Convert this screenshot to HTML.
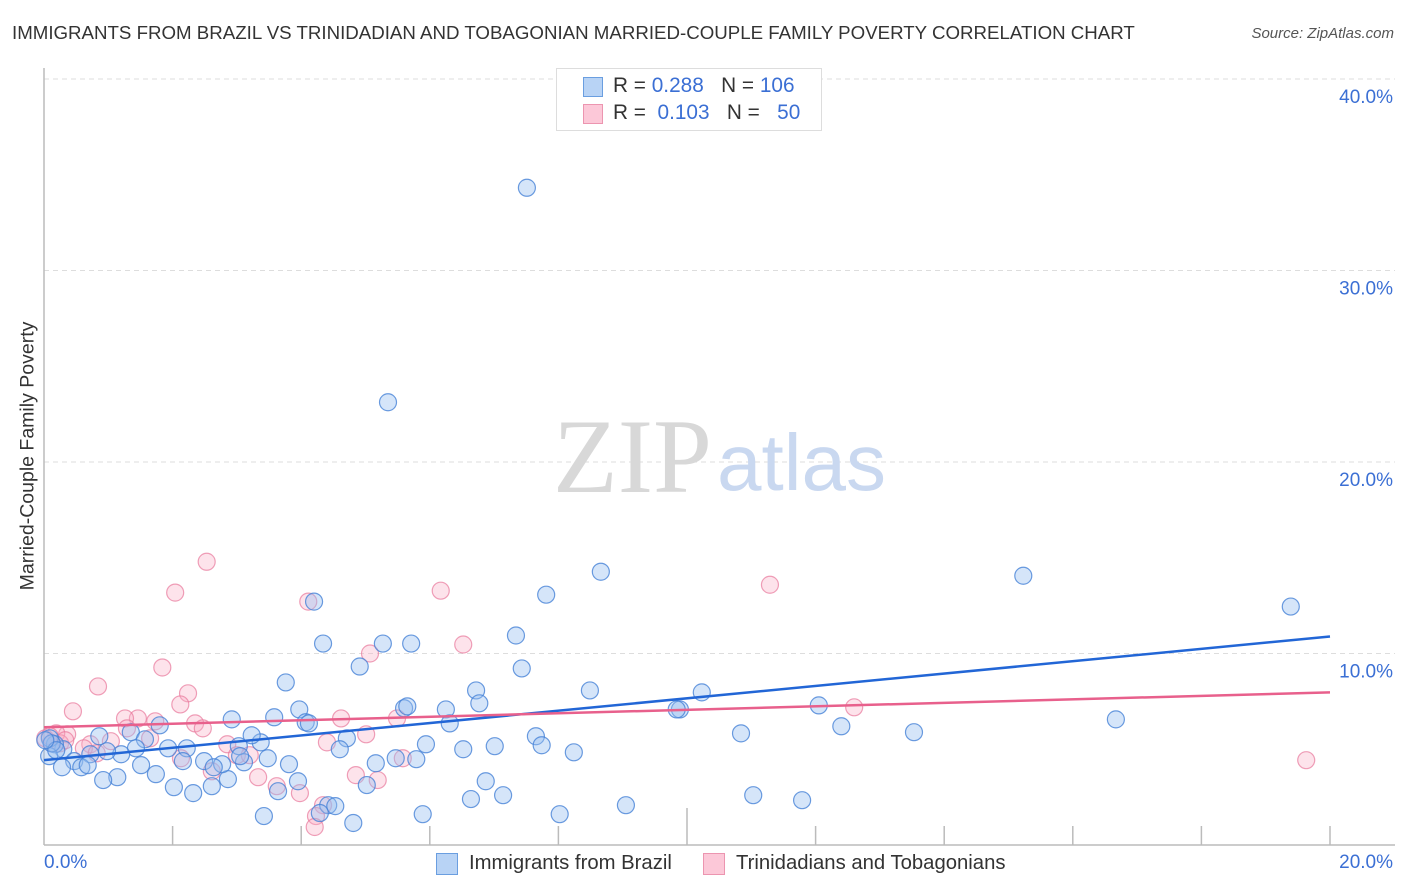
<!DOCTYPE html>
<html><head><meta charset="utf-8">
<style>
body{margin:0;background:#fff;font-family:"Liberation Sans",sans-serif;}
#wrap{position:relative;width:1406px;height:892px;overflow:hidden;}
.t{position:absolute;white-space:nowrap;}
</style></head>
<body>
<div id="wrap">
<div class="t" style="left:12px;top:22px;font-size:18.7px;color:#333;">IMMIGRANTS FROM BRAZIL VS TRINIDADIAN AND TOBAGONIAN MARRIED-COUPLE FAMILY POVERTY CORRELATION CHART</div>
<div class="t" style="right:12px;top:25px;font-size:15px;color:#555;font-style:italic;">Source: ZipAtlas.com</div>
<svg id="plot" width="1406" height="892" style="position:absolute;left:0;top:0"></svg>
</div>
<script>
const yTicks=[10,20,30,40];
const yTickLabels=["10.0%","20.0%","30.0%","40.0%"];
const blueX=[7.51,5.35,8.66,15.23,19.39,7.81,4.20,7.34,4.34,5.27,5.71,4.91,7.43,3.76,6.72,8.49,10.23,9.89,9.84,12.05,6.77,5.60,6.25,5.65,3.97,3.58,2.92,16.67,12.40,10.84,13.53,4.07,4.12,6.31,7.65,7.74,7.01,6.52,5.94,4.71,4.60,3.37,3.23,3.03,1.93,2.22,1.35,0.86,1.57,1.80,1.43,1.20,0.98,0.72,0.30,0.17,0.09,0.08,0.47,0.58,0.68,0.28,1.51,1.74,1.14,0.92,2.02,2.32,2.61,2.86,2.49,2.16,2.77,3.11,3.48,3.81,3.05,2.64,5.16,5.47,5.79,8.24,6.87,3.95,3.64,5.02,7.14,6.64,4.42,4.53,4.29,9.05,11.03,11.79,5.89,8.02,3.42,4.81,0.12,0.19,0.02];
const blueY=[34.32,23.12,14.27,14.06,12.45,13.07,12.71,10.94,10.52,10.52,10.52,9.32,9.22,8.49,8.07,8.07,7.97,7.08,7.08,7.29,7.40,7.14,7.08,7.24,7.08,6.67,6.56,6.56,6.20,5.83,5.89,6.41,6.35,6.35,5.68,5.21,5.16,5.00,5.26,5.57,5.00,5.36,5.73,5.16,5.05,5.05,5.89,5.68,5.52,6.25,5.05,4.74,4.90,4.74,5.00,5.26,5.57,4.64,4.38,4.06,4.17,4.06,4.17,3.70,3.54,3.39,3.02,2.71,3.07,3.44,4.38,4.38,4.22,4.32,4.53,4.22,4.64,4.06,4.27,4.53,4.48,4.84,3.33,3.33,2.81,3.13,2.60,2.40,2.08,2.03,1.67,2.08,2.60,2.34,1.61,1.61,1.51,1.15,5.31,4.95,5.47];
const pinkX=[2.53,2.04,4.11,6.17,11.29,6.52,5.07,1.84,0.84,2.24,0.45,2.12,1.73,1.46,1.26,1.29,2.35,2.47,4.62,5.49,5.01,4.40,2.85,1.04,0.72,0.62,0.36,0.19,3.00,3.20,2.61,3.33,4.85,5.19,5.58,3.62,3.98,4.34,4.23,4.21,2.13,12.60,19.63,0.25,0.02,0.82,1.65,0.12,0.09,0.33];
const pinkY=[14.79,13.18,12.71,13.28,13.59,10.47,10.00,9.27,8.28,7.92,6.98,7.34,6.46,6.61,6.61,6.09,6.35,6.09,6.61,6.61,5.78,5.36,5.26,5.42,5.26,5.05,5.78,5.83,4.69,4.69,3.85,3.54,3.65,3.39,4.53,3.07,2.71,2.08,1.51,0.94,4.53,7.19,4.43,5.31,5.57,4.79,5.57,5.31,5.68,5.47];
const blueTrend=[4.43,10.89];
const pinkTrend=[6.15,7.97];

const X0=44,X1=1330,Y0=845,PPY=19.15;
const xs=v=>X0+v*(X1-X0)/20;
const ys=v=>Y0-v*PPY;
const svg=document.getElementById('plot');
const NS='http://www.w3.org/2000/svg';
function mk(tag,attrs,parent){const e=document.createElementNS(NS,tag);for(const k in attrs)e.setAttribute(k,attrs[k]);(parent||svg).appendChild(e);return e;}

yTicks.forEach((t,i)=>{
  const g=mk('line',{x1:X0,x2:1395,y1:ys(t),y2:ys(t),stroke:'#ddd','stroke-dasharray':'5,4'});
  
  
  const l=mk('text',{x:1393,y:ys(t)+24,'text-anchor':'end','font-size':'19','font-family':'Liberation Sans, sans-serif',fill:'#3b6fd4'});
  l.textContent=yTickLabels[i];
  
  
});
const ax=mk('line',{x1:X0,x2:X0,y1:68,y2:Y0,stroke:'#bbb','stroke-width':1.5});


const bx=mk('line',{x1:X0,x2:1395,y1:Y0,y2:Y0,stroke:'#bbb','stroke-width':1.5});


for(let i=1;i<=10;i++){
  const x=xs(i*2);
  const tk=mk('line',{x1:x,x2:x,y1:(i==5?808:826),y2:Y0,stroke:'#bbb','stroke-width':1.5});
  
  
}
const wm1=mk('text',{x:553,y:492,'font-size':'106','font-family':'Liberation Serif, serif',fill:'#d8d8d8'});
wm1.textContent='ZIP';


const wm2=mk('text',{x:717,y:490,'font-size':'80','font-family':'Liberation Sans, sans-serif',fill:'#c9d8f0'});
wm2.textContent='atlas';



pinkX.forEach((v,i)=>{
  const c=mk('circle',{cx:xs(v),cy:ys(pinkY[i]),r:8.5,fill:'rgba(248,175,198,0.35)',stroke:'rgba(232,120,155,0.7)','stroke-width':1.2});
  
  
});
blueX.forEach((v,i)=>{
  const c=mk('circle',{cx:xs(v),cy:ys(blueY[i]),r:8.5,fill:'rgba(150,190,240,0.4)',stroke:'rgba(70,130,215,0.8)','stroke-width':1.2});
  
  
});
const tb=mk('line',{x1:xs(0),x2:xs(20),y1:ys(blueTrend[0]),y2:ys(blueTrend[1]),stroke:'#2266d6','stroke-width':2.5});


const tp=mk('line',{x1:xs(0),x2:xs(20),y1:ys(pinkTrend[0]),y2:ys(pinkTrend[1]),stroke:'#e8608c','stroke-width':2.5});


</script>
<div class="t" style="left:28px;top:456px;font-size:19.5px;color:#333;transform:translate(-50%,-50%) rotate(-90deg);">Married-Couple Family Poverty</div>
<div class="t" style="left:44px;top:852px;font-size:19px;color:#3b6fd4;">0.0%</div>
<div class="t" style="right:13px;top:852px;font-size:19px;color:#3b6fd4;">20.0%</div>
<div style="position:absolute;left:556px;top:68px;width:264px;height:61px;border:1px solid #ddd;background:#fff;font-size:20.8px;">
 <div style="position:absolute;left:26px;top:8px;width:18px;height:18px;background:#b8d3f5;border:1px solid #6a9ee0;"></div>
 <div class="t" style="left:56px;top:5px;color:#333;">R = <span style="color:#3b6fd4">0.288</span>&nbsp;&nbsp;&nbsp;N = <span style="color:#3b6fd4">106</span></div>
 <div style="position:absolute;left:26px;top:35px;width:18px;height:18px;background:#fcc8d8;border:1px solid #ec95b0;"></div>
 <div class="t" style="left:56px;top:32px;color:#333;">R = &nbsp;<span style="color:#3b6fd4">0.103</span>&nbsp;&nbsp;&nbsp;N = &nbsp;&nbsp;<span style="color:#3b6fd4">50</span></div>
</div>
<div style="position:absolute;left:436px;top:852px;font-size:20.3px;color:#333;">
 <div style="position:absolute;left:0;top:1px;width:20px;height:20px;background:#b8d3f5;border:1px solid #6a9ee0;"></div>
 <div class="t" style="left:33px;top:0;">Immigrants from Brazil</div>
</div>
<div style="position:absolute;left:703px;top:852px;font-size:20.3px;color:#333;">
 <div style="position:absolute;left:0;top:1px;width:20px;height:20px;background:#fcc8d8;border:1px solid #ec95b0;"></div>
 <div class="t" style="left:33px;top:0;">Trinidadians and Tobagonians</div>
</div>
</body></html>
